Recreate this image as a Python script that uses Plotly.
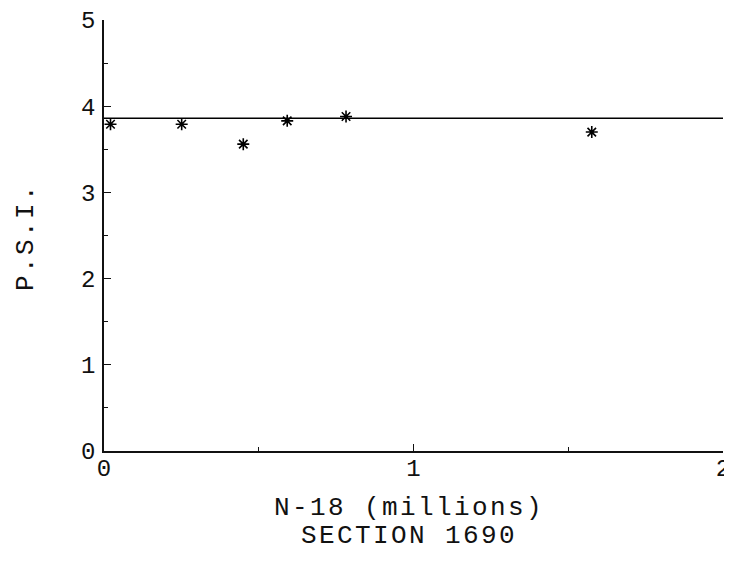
import plotly.graph_objects as go

# Data
n18_millions = [0.021, 0.251, 0.45, 0.592, 0.782, 1.576]
psi_values = [3.79, 3.79, 3.56, 3.83, 3.88, 3.70]
mean_line_x = [0.0, 2.0]
mean_psi = 3.86

x_tick_vals = [0, 1, 2]
x_tick_text = ["0", "1", "2"]
y_tick_vals = [0, 1, 2, 3, 4, 5]
y_tick_text = ["0", "1", "2", "3", "4", "5"]

x_title_1 = "N-18 (millions)"
x_title_2 = "SECTION 1690"
y_title = "P.S.I."

FONT = "Liberation Mono"
SPACED = '<span style="letter-spacing:2.4px">{}</span>'

fig = go.Figure()
fig.add_trace(go.Scatter(
    x=mean_line_x, y=[mean_psi, mean_psi], mode="lines",
    line=dict(color="black", width=1.5), showlegend=False, hoverinfo="skip",
))
fig.add_trace(go.Scatter(
    x=n18_millions, y=psi_values, mode="markers",
    marker=dict(symbol="asterisk-open", size=10, color="black",
                line=dict(color="black", width=1.6)),
    showlegend=False,
))

fig.update_layout(
    width=724, height=553,
    margin=dict(l=96, r=9, t=12, b=110, autoexpand=False),
    paper_bgcolor="white", plot_bgcolor="white",
    font=dict(family=FONT, size=26, color="#111"),
    xaxis=dict(
        range=[0, 2], tickvals=x_tick_vals, ticktext=x_tick_text, automargin=False,
        showgrid=False, zeroline=False, showline=True, linecolor="#111", linewidth=1.5,
        ticks="inside", ticklen=7, tickcolor="#111", tickwidth=1.2,
        minor=dict(ticks="inside", ticklen=4, dtick=0.5, tickcolor="#111", showgrid=False),
        ticklabelstandoff=-6,
        tickfont=dict(family=FONT, size=24, color="#111"),
    ),
    yaxis=dict(
        range=[0, 5], tickvals=y_tick_vals, ticktext=y_tick_text, automargin=False,
        showgrid=False, zeroline=False, showline=True, linecolor="#111", linewidth=1.5,
        ticks="inside", ticklen=7, tickcolor="#111", tickwidth=1.2,
        minor=dict(ticks="inside", ticklen=4, dtick=0.5, tickcolor="#111", showgrid=False),
        ticklabelstandoff=2,
        tickfont=dict(family=FONT, size=24, color="#111"),
    ),
    annotations=[
        dict(text=SPACED.format(x_title_1), xref="paper", yref="paper", x=0.493, y=-0.132,
             xanchor="center", yanchor="middle", showarrow=False,
             font=dict(family=FONT, size=26, color="#111")),
        dict(text=SPACED.format(x_title_2), xref="paper", yref="paper", x=0.493, y=-0.197,
             xanchor="center", yanchor="middle", showarrow=False,
             font=dict(family=FONT, size=26, color="#111")),
        dict(text=SPACED.format(y_title), xref="paper", yref="paper", x=-0.126, y=0.4965,
             xanchor="center", yanchor="middle", showarrow=False, textangle=-90,
             font=dict(family=FONT, size=26, color="#111")),
    ],
)

fig.write_html("out.html")
